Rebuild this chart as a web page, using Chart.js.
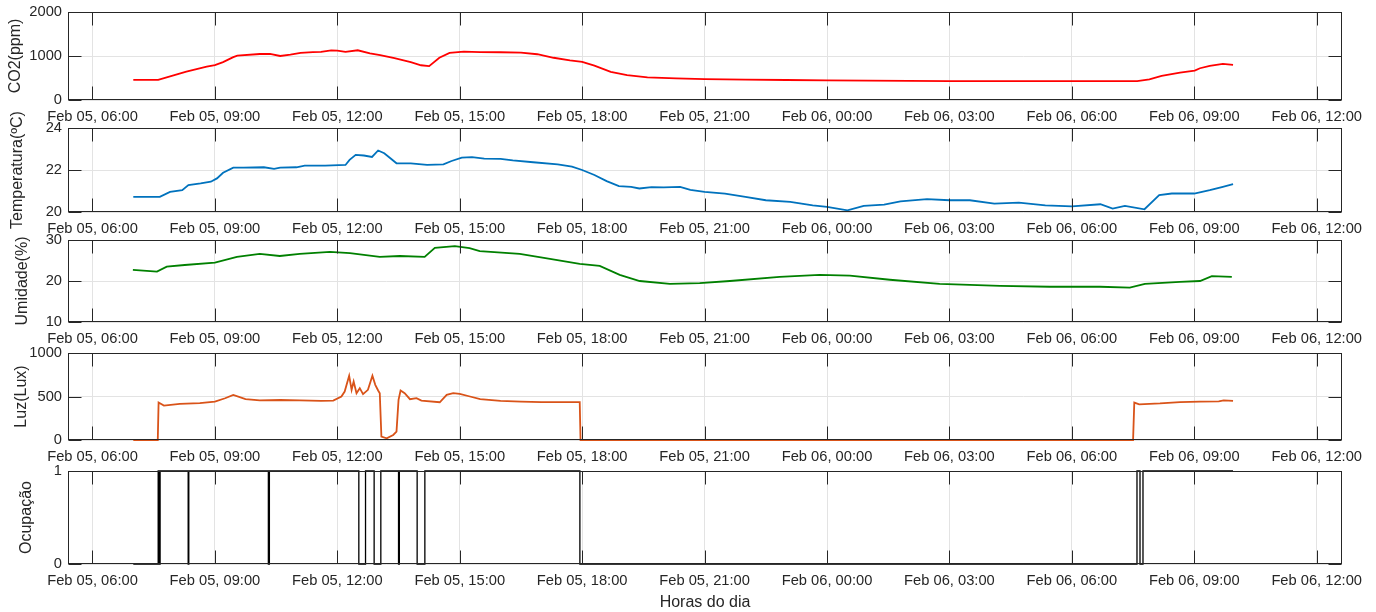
<!DOCTYPE html>
<html>
<head>
<meta charset="utf-8">
<title>Sensores</title>
<script src="https://cdn.jsdelivr.net/npm/chart.js@4.4.1/dist/chart.umd.min.js"></script>
<style>
  html, body { margin: 0; padding: 0; background: #ffffff; }
  #fig { position: relative; width: 1376px; height: 612px; overflow: hidden; }
  #fig canvas { position: absolute; left: 0; }
</style>
</head>
<body>
<div id="fig"></div>
<script>
// Eixo do tempo: horas contadas a partir de 05/02 00:00
const ticksHoras = [6, 9, 12, 15, 18, 21, 24, 27, 30, 33, 36];
const rotulosX = ['Feb 05, 06:00', 'Feb 05, 09:00', 'Feb 05, 12:00', 'Feb 05, 15:00',
                  'Feb 05, 18:00', 'Feb 05, 21:00', 'Feb 06, 00:00', 'Feb 06, 03:00',
                  'Feb 06, 06:00', 'Feb 06, 09:00', 'Feb 06, 12:00'];
const limitesX = [5.4, 36.62];

// CO2 (ppm)
const co2Horas = [7.00, 7.61, 8.30, 8.80, 9.00, 9.20, 9.45, 9.55, 10.10, 10.35, 10.60, 10.85, 11.10, 11.40,
  11.60, 11.85, 12.00, 12.20, 12.50, 12.80, 13.05, 13.40, 13.80, 14.05, 14.25, 14.50, 14.75, 15.10, 15.50,
  16.00, 16.50, 16.90, 17.30, 17.70, 18.00, 18.30, 18.70, 19.10, 19.60, 20.30, 21.00, 22.00, 23.00, 24.00,
  25.00, 26.00, 27.00, 28.00, 29.00, 30.00, 31.00, 31.60, 31.90, 32.20, 32.65, 33.01, 33.14, 33.38, 33.70, 33.95];
const co2Valores = [456, 456, 645, 760, 795, 860, 975, 1010, 1045, 1050, 1000, 1030, 1070, 1090,
  1095, 1130, 1120, 1095, 1130, 1060, 1020, 950, 860, 790, 770, 960, 1070, 1100, 1090,
  1085, 1075, 1040, 960, 900, 865, 780, 640, 565, 515, 490, 475, 465, 455, 445,
  440, 435, 430, 430, 428, 428, 428, 430, 470, 550, 623, 668, 722, 775, 820, 798];
const co2Ticks = [0, 1000, 2000];

// Temperatura (ºC)
const tempHoras = [7.0, 7.65, 7.9, 8.2, 8.35, 8.65, 8.9, 9.05, 9.2, 9.45, 9.7, 10.2, 10.45, 10.6, 11.0, 11.2,
  11.7, 12.2, 12.3, 12.45, 12.65, 12.85, 13.0, 13.15, 13.3, 13.45, 13.8, 14.2, 14.6, 14.8, 15.05, 15.3, 15.6,
  16.0, 16.3, 16.8, 17.4, 17.75, 18.0, 18.3, 18.6, 18.9, 19.2, 19.4, 19.7, 20.0, 20.4, 20.65, 21.0, 21.5,
  22.0, 22.5, 23.1, 23.65, 24.0, 24.5, 24.9, 25.4, 25.8, 26.45, 27.0, 27.5, 28.1, 28.7, 29.35, 30.0, 30.7,
  31.0, 31.3, 31.78, 32.14, 32.45, 33.0, 33.38, 33.7, 33.95];
const tempValores = [20.72, 20.72, 20.96, 21.04, 21.28, 21.36, 21.44, 21.60, 21.87, 22.11, 22.11, 22.13, 22.05,
  22.11, 22.13, 22.21, 22.21, 22.24, 22.48, 22.72, 22.69, 22.62, 22.93, 22.80, 22.56, 22.32, 22.32, 22.24,
  22.27, 22.43, 22.59, 22.61, 22.54, 22.53, 22.46, 22.37, 22.27, 22.16, 22.00, 21.76, 21.47, 21.23, 21.20,
  21.12, 21.18, 21.17, 21.20, 21.05, 20.96, 20.88, 20.72, 20.56, 20.48, 20.32, 20.24, 20.08, 20.29, 20.35,
  20.51, 20.61, 20.56, 20.56, 20.40, 20.45, 20.32, 20.27, 20.37, 20.16, 20.29, 20.13, 20.80, 20.88, 20.88,
  21.04, 21.20, 21.33];
const tempTicks = [20, 22, 24];

// Umidade (%)
const umidHoras = [6.99, 7.58, 7.82, 8.26, 9.00, 9.54, 10.10, 10.59, 11.08, 11.82, 12.31, 13.04, 13.53, 14.14,
  14.39, 14.88, 15.24, 15.49, 16.47, 17.21, 17.94, 18.43, 18.92, 19.41, 20.15, 20.88, 21.62, 22.84, 23.82,
  24.56, 25.54, 26.76, 28.24, 29.46, 30.69, 31.42, 31.79, 32.65, 33.14, 33.43, 33.92];
const umidValores = [22.7, 22.3, 23.5, 23.9, 24.5, 25.9, 26.6, 26.1, 26.6, 27.1, 26.8, 25.9, 26.1, 25.9,
  28.1, 28.5, 28.0, 27.3, 26.6, 25.4, 24.2, 23.7, 21.5, 20.0, 19.3, 19.5, 20.0, 21.0, 21.5,
  21.3, 20.3, 19.3, 18.8, 18.6, 18.6, 18.4, 19.3, 19.8, 20.0, 21.2, 21.0];
const umidTicks = [10, 20, 30];

// Luz (Lux)
const luzHoras = [7.00, 7.60, 7.62, 7.75, 8.14, 8.63, 9.00, 9.25, 9.45, 9.75, 10.10, 10.60, 11.08, 11.60, 11.90,
  12.10, 12.18, 12.29, 12.35, 12.40, 12.47, 12.55, 12.63, 12.75, 12.86, 12.93, 13.00, 13.04, 13.08, 13.21,
  13.37, 13.45, 13.50, 13.55, 13.65, 13.78, 13.94, 14.06, 14.51, 14.68, 14.84, 15.00, 15.25, 15.50, 16.00,
  16.50, 17.00, 17.94, 17.96, 31.50, 31.53, 31.65, 32.16, 32.65, 33.14, 33.60, 33.72, 33.95];
const luzValores = [0, 0, 430, 395, 415, 425, 442, 480, 519, 470, 455, 460, 455, 450, 453,
  500, 557, 738, 577, 672, 538, 596, 527, 577, 738, 634, 569, 538, 38, 19,
  58, 96, 461, 569, 538, 469, 481, 453, 434, 519, 538, 530, 500, 470, 450,
  440, 435, 435, 0, 0, 430, 410, 420, 435, 440, 445, 455, 450];
const luzTicks = [0, 500, 1000];

// Ocupação (0/1): cada ponto marca o instante em que o estado passa a valer
const ocupHoras = [7.0, 7.61, 7.635, 7.657, 8.345, 8.36, 10.31, 10.335, 12.527, 12.691, 12.902, 13.066,
  13.50, 13.52, 13.956, 14.145, 17.944, 31.596, 31.67, 31.743, 33.95];
const ocupValores = [0, 1, 0, 1, 0, 1, 0, 1, 0, 1, 0, 1, 0, 1, 0, 1, 0, 1, 0, 1, 1];
const ocupTicks = [0, 1];

const FONTE = "'Liberation Sans', Arial, Helvetica, sans-serif";
const CINZA = '#262626';
const GRADE = '#e3e3e3';

// Moldura fechada com marcas de escala para dentro nos quatro lados
const moldura = {
  id: 'moldura',
  afterDatasetsDraw(chart) {
    const { ctx, chartArea: a, scales: { x, y } } = chart;
    const L = Math.round(a.left) + 0.5, R = Math.round(a.right) - 0.5;
    const T = Math.round(a.top) + 0.5, B = Math.round(a.bottom) - 0.5;
    const comp = 13;
    ctx.save();
    ctx.strokeStyle = CINZA;
    ctx.lineWidth = 1;
    ctx.beginPath();
    x.ticks.forEach(t => {
      const px = Math.round(x.getPixelForValue(t.value)) + 0.5;
      if (px < L || px > R) return;
      ctx.moveTo(px, B); ctx.lineTo(px, B - comp);
      ctx.moveTo(px, T); ctx.lineTo(px, T + comp);
    });
    y.ticks.forEach(t => {
      const py = Math.round(y.getPixelForValue(t.value)) + 0.5;
      ctx.moveTo(L, py); ctx.lineTo(L + comp, py);
      ctx.moveTo(R, py); ctx.lineTo(R - comp, py);
    });
    ctx.stroke();
    ctx.strokeRect(L, T, R - L, B - T);
    ctx.restore();
  }
};

const paineis = [
  { rotulo: 'CO2(ppm)', horas: co2Horas, valores: co2Valores, ticks: co2Ticks, cor: '#ff0000', lw: 1.8,
    topo: 12, fundo: 100, padTitulo: 6.4 },
  { rotulo: 'Temperatura(ºC)', horas: tempHoras, valores: tempValores, ticks: tempTicks, cor: '#0072bd', lw: 1.8,
    topo: 128, fundo: 212, padTitulo: 8.4 },
  { rotulo: 'Umidade(%)', horas: umidHoras, valores: umidValores, ticks: umidTicks, cor: '#008000', lw: 1.8,
    topo: 240, fundo: 322, padTitulo: 13.4 },
  { rotulo: 'Luz(Lux)', horas: luzHoras, valores: luzValores, ticks: luzTicks, cor: '#d95319', lw: 1.8,
    topo: 353, fundo: 440, padTitulo: 12.4 },
  { rotulo: 'Ocupação', horas: ocupHoras, valores: ocupValores, ticks: ocupTicks, cor: '#000000', lw: 1.3,
    topo: 471, fundo: 564, padTitulo: 17.4, degrau: true, tituloX: 'Horas do dia' }
];

const fig = document.getElementById('fig');
// folga acima de cada painel, para que o título vertical não seja cortado
const MARGEM_TOPO = 40;

paineis.forEach((p, i) => {
  const ultimo = i === paineis.length - 1;
  const topoCanvas = p.topo - MARGEM_TOPO;
  const altEixoX = ultimo ? 612 - p.fundo : 36;
  const altCanvas = MARGEM_TOPO + (p.fundo - p.topo) + altEixoX;
  const cv = document.createElement('canvas');
  cv.width = 1376;
  cv.height = altCanvas;
  cv.style.top = topoCanvas + 'px';
  cv.style.width = '1376px';
  cv.style.height = altCanvas + 'px';
  fig.appendChild(cv);

  new Chart(cv, {
    type: 'line',
    data: {
      datasets: [{
        data: p.horas.map((h, k) => ({ x: h, y: p.valores[k] })),
        borderColor: p.cor,
        borderWidth: p.lw,
        pointRadius: 0,
        tension: 0,
        fill: false,
        stepped: p.degrau ? true : false,
        clip: false
      }]
    },
    options: {
      responsive: false,
      animation: false,
      devicePixelRatio: 1,
      layout: { padding: { top: MARGEM_TOPO, right: 34, bottom: 0, left: 0 } },
      plugins: { legend: { display: false }, tooltip: { enabled: false } },
      scales: {
        x: {
          type: 'linear',
          min: limitesX[0],
          max: limitesX[1],
          afterBuildTicks: s => { s.ticks = ticksHoras.map(v => ({ value: v })); },
          afterFit: s => { s.height = altEixoX; },
          ticks: {
            callback: v => rotulosX[ticksHoras.indexOf(v)],
            color: CINZA,
            font: { family: FONTE, size: 14.7 },
            padding: 8,
            maxRotation: 0,
            autoSkip: false
          },
          grid: { color: GRADE, lineWidth: 1, drawTicks: false },
          border: { display: false },
          title: p.tituloX ? {
            display: true, text: p.tituloX, color: CINZA,
            font: { family: FONTE, size: 16 }, padding: { top: 0, bottom: 0 }
          } : { display: false }
        },
        y: {
          type: 'linear',
          min: p.ticks[0],
          max: p.ticks[p.ticks.length - 1],
          afterBuildTicks: s => { s.ticks = p.ticks.map(v => ({ value: v })); },
          afterFit: s => { s.width = 68; },
          ticks: {
            callback: v => String(v),
            color: CINZA,
            font: { family: FONTE, size: 14.7 },
            padding: 6
          },
          grid: { color: GRADE, lineWidth: 1, drawTicks: false },
          border: { display: false },
          title: {
            display: true, text: p.rotulo, color: CINZA,
            font: { family: FONTE, size: 16 }, padding: { top: p.padTitulo, bottom: 0 }
          }
        }
      }
    },
    plugins: [moldura]
  });
});
</script>
</body>
</html>
